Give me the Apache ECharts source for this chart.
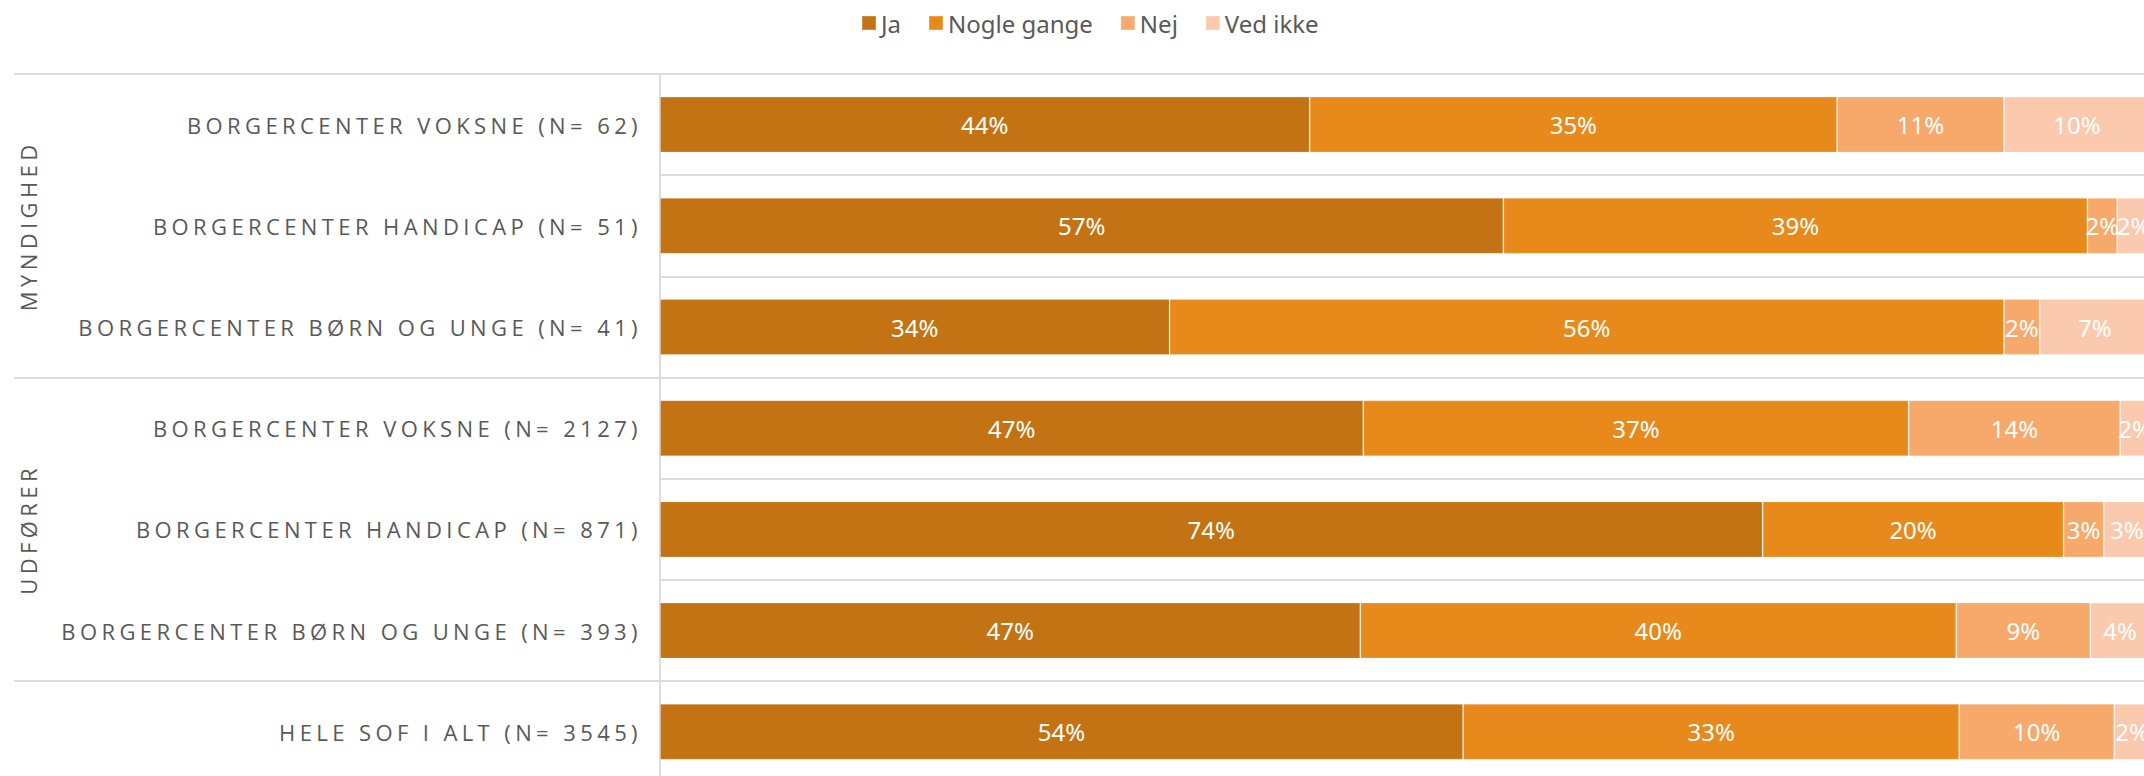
<!DOCTYPE html>
<html lang="da">
<head>
<meta charset="utf-8">
<title>Svarfordeling</title>
<script src="https://cdn.jsdelivr.net/npm/echarts@6/dist/echarts.min.js"></script>
<style>
  html, body { margin: 0; padding: 0; background: #ffffff; }
  #chart { width: 2144px; height: 776px; }
  /* spaced capitals for the row and group captions */
  #chart text[style*="Open Sans"] { letter-spacing: 4.4px; }
</style>
</head>
<body>
<div id="chart"></div>
<script>
// Rows, top to bottom
const categories = [
  'BORGERCENTER VOKSNE (N= 62)',
  'BORGERCENTER HANDICAP (N= 51)',
  'BORGERCENTER BØRN OG UNGE (N= 41)',
  'BORGERCENTER VOKSNE (N= 2127)',
  'BORGERCENTER HANDICAP (N= 871)',
  'BORGERCENTER BØRN OG UNGE (N= 393)',
  'HELE SOF I ALT (N= 3545)'
];

// Group each row belongs to ('' = no group caption)
const groups = ['MYNDIGHED', 'MYNDIGHED', 'MYNDIGHED', 'UDFØRER', 'UDFØRER', 'UDFØRER', ''];

// Answer shares in percent per row
const seriesNames = ['Ja', 'Nogle gange', 'Nej', 'Ved ikke'];
const ja         = [43.6, 56.6, 34.2, 47.2, 74.0, 47.0, 53.9];
const nogleGange = [35.4, 39.2, 56.0, 36.6, 20.2, 40.0, 33.3];
const nej        = [11.2,  2.0,  2.4, 14.2,  2.7,  9.0, 10.4];
const vedIkke    = [ 9.8,  2.2,  7.4,  2.0,  3.1,  4.0,  2.4];

const colors = ['#C47314', '#E88A1B', '#F7A96B', '#FBC9AD'];

// Group caption goes on the middle row of each run; long rules start each run
const groupCaption = categories.map(() => '');
const groupStart = categories.map(() => false);
let runStart = 0;
for (let i = 0; i <= groups.length; i++) {
  if (i === groups.length || (i > 0 && groups[i] !== groups[i - 1])) {
    const mid = Math.floor((runStart + i - 1) / 2);
    groupCaption[mid] = groups[runStart];
    groupStart[runStart] = true;
    runStart = i;
  }
}

const chart = echarts.init(document.getElementById('chart'), null, { renderer: 'svg' });

const gridLine = '#dcdcdc';
const labelGray = '#595959';

const values = [ja, nogleGange, nej, vedIkke];

chart.setOption({
  backgroundColor: '#ffffff',
  animation: false,
  color: colors,
  legend: {
    data: seriesNames,
    left: 856,
    top: 6,
    icon: 'rect',
    itemWidth: 14,
    itemHeight: 14,
    itemGap: 27,
    textStyle: { fontFamily: 'Noto Sans', fontSize: 24, color: labelGray }
  },
  grid: {
    left: 660,
    top: 74,
    width: 1490,
    height: 708.4,
    outerBoundsMode: 'none',
    containLabel: false
  },
  xAxis: {
    type: 'value',
    min: 0,
    max: 100,
    show: false
  },
  yAxis: [
    {
      type: 'category',
      data: categories,
      inverse: true,
      axisLine: { show: true, lineStyle: { color: gridLine, width: 2 } },
      axisTick: {
        show: true,
        length: 646,
        interval: (index) => groupStart[index],
        lineStyle: { color: gridLine, width: 2 }
      },
      splitLine: { show: true, interval: 0, lineStyle: { color: gridLine, width: 2 } },
      axisLabel: {
        interval: 0,
        margin: 18,
        fontFamily: 'Open Sans',
        fontSize: 22,
        color: labelGray
      }
    },
    {
      type: 'category',
      data: categories,
      inverse: true,
      position: 'left',
      offset: 632,
      axisLine: { show: false },
      axisTick: { show: false },
      splitLine: { show: false },
      axisLabel: {
        interval: 0,
        margin: 0,
        rotate: 90,
        align: 'center',
        verticalAlign: 'middle',
        fontFamily: 'Open Sans',
        fontSize: 22,
        color: labelGray,
        formatter: (value, index) => groupCaption[index]
      }
    }
  ],
  series: seriesNames.map((name, k) => ({
    name: name,
    type: 'bar',
    stack: 'total',
    yAxisIndex: 0,
    barWidth: 56,
    data: values[k],
    itemStyle: { color: colors[k], borderColor: 'rgba(255,255,255,0.2)', borderWidth: 1 },
    label: {
      show: true,
      position: 'inside',
      color: '#ffffff',
      fontFamily: 'Noto Sans',
      fontSize: 24,
      formatter: (p) => Math.round(p.value) + '%'
    }
  }))
});
</script>
</body>
</html>
